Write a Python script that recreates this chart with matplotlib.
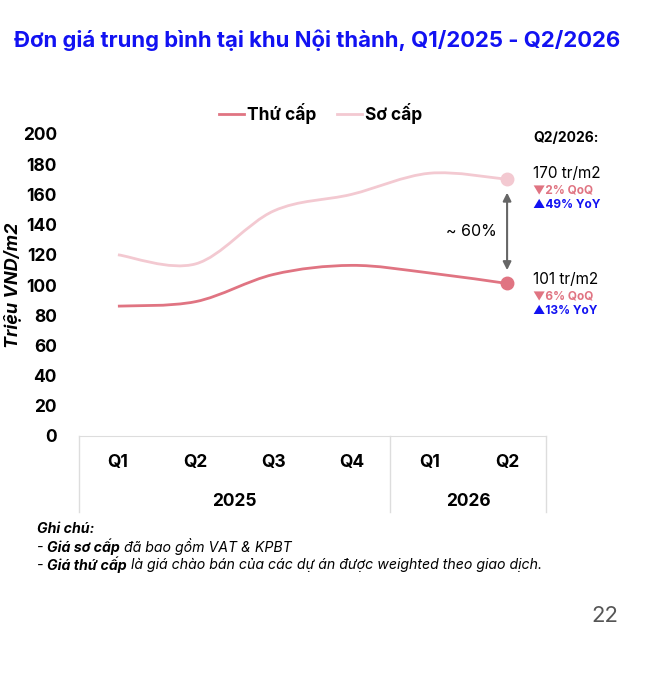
import matplotlib
matplotlib.use("Agg")
import matplotlib.pyplot as plt
from matplotlib.path import Path
from matplotlib.patches import PathPatch
import numpy as np

plt.rcParams['font.family'] = ['Inter', 'DejaVu Sans']

quarters = ['Q1', 'Q2', 'Q3', 'Q4', 'Q1', 'Q2']
years = ['2025', '2026']
year_spans = [(0, 3), (4, 5)]
thu_cap = [86, 89, 107, 113, 108, 101]
so_cap = [120, 114, 149, 160, 174, 170]
yticks = [0, 20, 40, 60, 80, 100, 120, 140, 160, 180, 200]

c_thu = '#E07482'
c_so = '#F3C9D1'
c_blue = '#1212F2'

W, H = 660, 683
fig = plt.figure(figsize=(W / 100, H / 100), dpi=100)
ax = fig.add_axes([79 / W, 1 - 436 / H, (546 - 79) / W, (436 - 134) / H])
ax.set_xlim(-0.5, 5.5)
ax.set_ylim(0, 200)
for s in ['top', 'right', 'left']:
    ax.spines[s].set_visible(False)
ax.spines['bottom'].set_color('#dddddd')
ax.set_xticks([])
ax.set_yticks(yticks)
ax.set_yticklabels([str(v) for v in yticks], fontsize=12.5, fontweight='bold')
ax.tick_params(axis='y', length=0, pad=16)


def fx(px):
    return px / W


def fy(py):
    return 1 - py / H


fig.text(fx(13), fy(285), 'Triệu VND/m2', fontsize=13, fontweight='bold', fontstyle='italic',
         rotation=90, ha='center', va='center')


def smooth_path(ys):
    xs = np.arange(len(ys), dtype=float)
    pts = np.column_stack([xs, np.asarray(ys, dtype=float)])
    verts = [pts[0]]
    codes = [Path.MOVETO]
    n = len(pts)
    for i in range(n - 1):
        p0 = pts[i - 1] if i > 0 else pts[i]
        p1 = pts[i]
        p2 = pts[i + 1]
        p3 = pts[i + 2] if i + 2 < n else pts[i + 1]
        verts += [p1 + (p2 - p0) / 6, p2 - (p3 - p1) / 6, p2]
        codes += [Path.CURVE4] * 3
    return Path(verts, codes)


ax.add_patch(PathPatch(smooth_path(so_cap), fill=False, edgecolor=c_so, lw=2))
ax.add_patch(PathPatch(smooth_path(thu_cap), fill=False, edgecolor=c_thu, lw=2))
ax.plot([5], [so_cap[-1]], 'o', color=c_so, ms=9, zorder=5)
ax.plot([5], [thu_cap[-1]], 'o', color=c_thu, ms=9, zorder=5)

# legend handles
ax.plot([], [], color=c_thu, lw=2, label='Thứ cấp')
ax.plot([], [], color=c_so, lw=2, label='Sơ cấp')
ax.legend(loc='lower center', bbox_to_anchor=(0.518, 0.98), ncol=2, frameon=False,
          prop={'size': 12.5, 'weight': 'bold'}, handlelength=1.4, handletextpad=0.2,
          columnspacing=1.2)

# category axis box
tr = ax.get_xaxis_transform()
box_bottom = -(512 - 436) / (436 - 134)
for xv in [-0.5, 3.5, 5.5]:
    ax.plot([xv, xv], [0, box_bottom], color='#dddddd', lw=1, transform=tr, clip_on=False)
q_y = -(463 - 436) / (436 - 134)
yr_y = -(502 - 436) / (436 - 134)
for i, q in enumerate(quarters):
    ax.text(i, q_y, q, transform=tr, ha='center', va='center', fontsize=12.5, fontweight='bold')
for (a, b), yr in zip(year_spans, years):
    ax.text((a + b) / 2, yr_y, yr, transform=tr, ha='center', va='center', fontsize=12.5,
            fontweight='bold')

# gap arrow
ax.annotate('', xy=(5, thu_cap[-1] + 7), xytext=(5, so_cap[-1] - 7),
            arrowprops=dict(arrowstyle='<|-|>', color='#666666', lw=1.5, mutation_scale=12))
ax.text(4.87, (thu_cap[-1] + so_cap[-1]) / 2, '~ 60%', ha='right', va='center', fontsize=11.5)

# right annotations
fig.text(fx(533), fy(138), 'Q2/2026:', fontsize=10, fontweight='bold', va='center')
fig.text(fx(533), fy(173), '%d tr/m2' % so_cap[-1], fontsize=11, va='center')
fig.text(fx(533), fy(190), '▼2% QoQ', fontsize=8.5, fontweight='bold', color=c_thu, va='center')
fig.text(fx(533), fy(205), '▲49% YoY', fontsize=8.5, fontweight='bold', color=c_blue, va='center')
fig.text(fx(533), fy(279), '%d tr/m2' % thu_cap[-1], fontsize=11, va='center')
fig.text(fx(533), fy(296), '▼6% QoQ', fontsize=8.5, fontweight='bold', color=c_thu, va='center')
fig.text(fx(533), fy(311), '▲13% YoY', fontsize=8.5, fontweight='bold', color=c_blue, va='center')

# title
fig.text(fx(14), fy(40), 'Đơn giá trung bình tại khu Nội thành, Q1/2025 - Q2/2026',
         fontsize=15.9, fontweight='bold', color=c_blue, va='center')

# notes
renderer = fig.canvas.get_renderer()


def rich_line(x, y, parts, size=10.2):
    for txt, weight in parts:
        t = fig.text(x, y, txt, fontsize=size, fontstyle='italic', fontweight=weight, va='center')
        bb = t.get_window_extent(renderer)
        x = x + bb.width / W


rich_line(fx(37), fy(529), [('Ghi chú:', 'bold')])
rich_line(fx(37), fy(547), [('- ', 'normal'), ('Giá sơ cấp', 'bold'), (' đã bao gồm VAT & KPBT', 'normal')])
rich_line(fx(37), fy(565), [('- ', 'normal'), ('Giá thứ cấp', 'bold'),
                            (' là giá chào bán của các dự án được weighted theo giao dịch.', 'normal')])

fig.text(fx(618), fy(616), '22', fontsize=16, color='#555555', ha='right', va='center')

fig.savefig('out.png', dpi=100)
